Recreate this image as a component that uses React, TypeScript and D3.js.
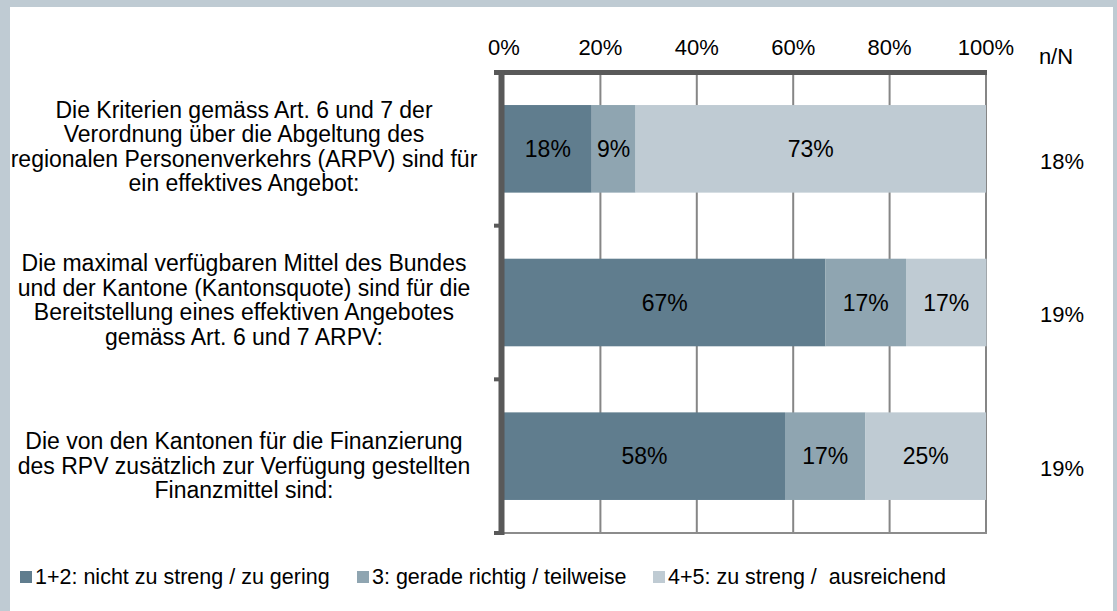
import * as d3 from 'd3';

const categories = ['k1', 'k2', 'k3'];
const categoryLines = [
  ['Die Kriterien gemäss Art. 6 und 7 der', 'Verordnung über die Abgeltung des', 'regionalen Personenverkehrs (ARPV) sind für', 'ein effektives Angebot:'],
  ['Die maximal verfügbaren Mittel des Bundes', 'und der Kantone (Kantonsquote) sind für die', 'Bereitstellung eines effektiven Angebotes', 'gemäss Art. 6 und 7 ARPV:'],
  ['Die von den Kantonen für die Finanzierung', 'des RPV zusätzlich zur Verfügung gestellten', 'Finanzmittel sind:'],
];
const seriesNames = ['1+2: nicht zu streng / zu gering', '3: gerade richtig / teilweise', '4+5: zu streng /  ausreichend'];
const low = [18.2, 66.7, 58.3];
const mid = [9.1, 16.7, 16.7];
const high = [72.7, 16.7, 25.0];
const nN = ['18%', '19%', '19%'];
const ticks = [0, 20, 40, 60, 80, 100];
const colors = ['#607d8e', '#8fa5b1', '#bfcbd3'];

const W = 1117;
const H = 611;
const font = "'Liberation Sans', Arial, sans-serif";

export default function App() {
  const x = d3.scaleLinear().domain([0, 100]).range([504, 986]);
  const y = d3.scaleBand().domain(categories).range([72, 533]).paddingInner(0.43).paddingOuter(0.215);
  const step = y.step();
  const bandEnd = (i: number) => 72 + step * (i + 1);

  const rows = categories.map((c, i) => ({ cat: c, low: low[i], mid: mid[i], high: high[i] }));
  const keys = ['low', 'mid', 'high'];
  const stacked = d3.stack<any>().keys(keys)(rows);

  const legendX = [20, 357, 653];

  return (
    <div style={{ position: 'absolute', left: 0, top: 0 }}>
      <svg width={W} height={H} style={{ display: 'block' }} fontFamily={font}>
        <rect x={0} y={0} width={W} height={H} fill="#bfcbd3" />
        <rect x={10} y={7} width={1103} height={H - 7} fill="#fff" />

        {/* gridlines */}
        {ticks.slice(1).map(t => (
          <line key={t} x1={x(t)} x2={x(t)} y1={75} y2={533} stroke="#868686" strokeWidth={2} />
        ))}
        <line x1={x(0)} x2={x(100) + 1} y1={533} y2={533} stroke="#8c8c8c" strokeWidth={2} />

        {/* bars */}
        {stacked.map((s, si) => (
          <g key={s.key} fill={colors[si]}>
            {s.map((d, i) => (
              <rect key={i} x={x(d[0])} y={y(categories[i])} width={x(d[1]) - x(d[0])} height={y.bandwidth()} />
            ))}
          </g>
        ))}

        {/* data labels */}
        {stacked.map((s, si) => (
          <g key={'l' + s.key} fontSize={23} fill="#000" textAnchor="middle">
            {s.map((d, i) => (
              <text key={i} x={(x(d[0]) + x(d[1])) / 2} y={y(categories[i])! + y.bandwidth() / 2} dy="0.36em">
                {Math.round(d[1] - d[0])}%
              </text>
            ))}
          </g>
        ))}

        {/* axes */}
        <line x1={494} x2={987} y1={72.5} y2={72.5} stroke="#595959" strokeWidth={5} />
        <line x1={501.5} x2={501.5} y1={70} y2={535} stroke="#595959" strokeWidth={6} />
        {d3.range(categories.length).map(i => (
          <line key={i} x1={494} x2={501} y1={bandEnd(i)} y2={bandEnd(i)} stroke="#595959" strokeWidth={4} />
        ))}

        {/* tick labels */}
        {ticks.map(t => (
          <text key={t} x={x(t)} y={55} fontSize={22} textAnchor="middle" fill="#000">{t}%</text>
        ))}
        <text x={1056} y={64} fontSize={22} textAnchor="middle" fill="#000">n/N</text>

        {/* category labels, bottom aligned in each band */}
        {categoryLines.map((lines, i) => {
          const lh = 24.4;
          const last = bandEnd(i) - 43;
          const start = last - (lines.length - 1) * lh;
          return (
            <text key={i} fontSize={23} textAnchor="middle" fill="#000">
              {lines.map((l, j) => (
                <tspan key={j} x={244} y={start + j * lh} dy="0.36em">{l}</tspan>
              ))}
            </text>
          );
        })}

        {/* n/N values */}
        {nN.map((v, i) => (
          <text key={i} x={1062} y={bandEnd(i) - 65} dy="0.36em" fontSize={22} textAnchor="middle" fill="#000">{v}</text>
        ))}

        {/* legend */}
        {seriesNames.map((n, i) => (
          <g key={n} transform={`translate(${legendX[i]},571)`}>
            <rect x={0} y={0} width={12} height={12} fill={colors[i]} />
            <text x={15} y={13} fontSize={21.5} fill="#000" style={{ whiteSpace: 'pre' }}>{n}</text>
          </g>
        ))}
      </svg>
    </div>
  );
}
